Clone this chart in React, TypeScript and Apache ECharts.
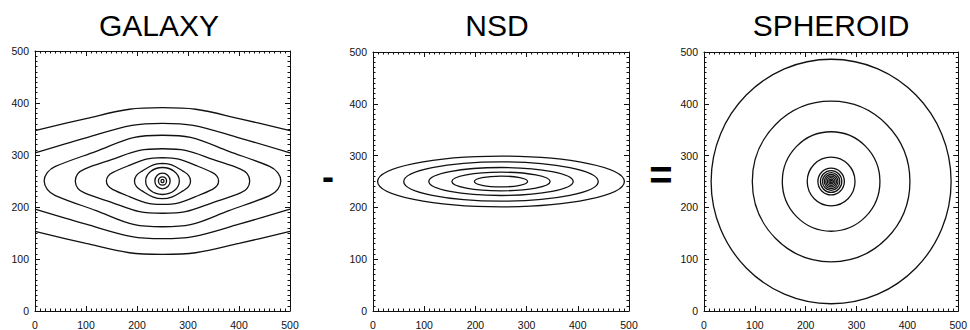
import React, { useEffect, useRef } from "react";
import * as echarts from "echarts";

// ---- Tick labels / titles ----
const panelTitles = ["GALAXY", "NSD", "SPHEROID"];
const axisMin = 0;
const axisMax = 500;
const axisStep = 100;

// ---- GALAXY: open contours (cross the whole field) ----
const galaxyOpenTop1 = [[0, 347], [100, 370], [185, 388], [250, 391], [315, 388], [400, 370], [500, 347]];
const galaxyOpenTop2 = [[0, 304], [100, 333], [190, 357], [250, 361], [310, 357], [400, 333], [500, 304]];
const galaxyOpenBot2 = [[0, 196], [100, 167], [190, 143], [250, 139], [310, 143], [400, 167], [500, 196]];
const galaxyOpenBot1 = [[0, 153], [100, 130], [185, 112], [250, 109], [315, 112], [400, 130], [500, 153]];

// ---- GALAXY: closed contours (traced round, starting at the top) ----
const galaxyClosed1 = [[250, 338], [305, 334], [380, 307], [460, 278], [476, 266], [482, 250], [476, 234], [460, 222], [380, 193], [305, 166], [250, 162], [195, 166], [120, 193], [40, 222], [24, 234], [18, 250], [24, 266], [40, 278], [120, 307], [195, 334], [250, 338]];
const galaxyClosed2 = [[250, 312], [295, 309], [350, 291], [403, 273], [416, 264], [421, 250], [416, 236], [403, 227], [350, 209], [295, 191], [250, 188], [205, 191], [150, 209], [97, 227], [84, 236], [79, 250], [84, 264], [97, 273], [150, 291], [205, 309], [250, 312]];
const galaxyClosed3 = [[250, 295], [282, 292], [315, 280], [348, 266], [357, 259], [360, 250], [357, 241], [348, 234], [315, 220], [282, 208], [250, 205], [218, 208], [185, 220], [152, 234], [143, 241], [140, 250], [143, 259], [152, 266], [185, 280], [218, 292], [250, 295]];
const galaxyClosed4 = [[250, 284], [268, 281], [290, 269], [301, 261], [305, 250], [301, 239], [290, 231], [268, 219], [250, 216], [232, 219], [210, 231], [199, 239], [195, 250], [199, 261], [210, 269], [232, 281], [250, 284]];
// inner rings: [cx, cy, rx, ry]
const galaxyRings = [[250, 250, 33, 26], [250, 250, 15, 15], [250, 250, 8, 8], [250, 250, 3, 3]];

// ---- NSD ellipses: [cx, cy, rx, ry] ----
const nsdEllipses = [[250, 250, 241, 49], [250, 250, 190, 38], [250, 250, 141, 27], [250, 250, 96, 18], [250, 250, 52, 10.5]];

// ---- SPHEROID circles: [cx, cy, rx, ry] ----
const spheroidCircles = [[250, 250, 236, 236], [250, 250, 155, 155], [250, 250, 96, 96], [250, 250, 47, 47], [250, 250, 26, 26], [250, 250, 21, 21], [250, 250, 17, 17], [250, 250, 13.5, 13.5], [250, 250, 10.5, 10.5], [250, 250, 7.5, 7.5], [250, 250, 4.5, 4.5], [250, 250, 2, 2]];

const FONT = "'Liberation Sans', Arial, Helvetica, sans-serif";
const INK = "#111";
const LW = 1.3;

const grids = [
  { left: 35, top: 51, width: 255, height: 262 },
  { left: 373, top: 52, width: 256, height: 261 },
  { left: 704, top: 52, width: 258, height: 261 },
];
const titleX = [159, 497, 831];

function makeAxis(gridIndex: number, position: string, showLabel: boolean) {
  return {
    gridIndex,
    type: "value",
    position,
    min: axisMin,
    max: axisMax,
    interval: axisStep,
    axisLine: { show: true, onZero: false, lineStyle: { color: INK, width: 1 } },
    axisTick: { show: true, inside: true, length: 5, lineStyle: { color: INK, width: 1 } },
    minorTick: { show: true, splitNumber: 10, length: 2.5, lineStyle: { color: INK, width: 1 } },
    splitLine: { show: false },
    axisLabel: {
      show: showLabel,
      fontSize: 10.5,
      fontFamily: FONT,
      color: "#111",
      margin: position === "bottom" ? 8 : 6,
    },
  };
}

function lineSeries(data: number[][], gridIndex: number) {
  return {
    type: "line",
    xAxisIndex: gridIndex * 2,
    yAxisIndex: gridIndex * 2,
    data,
    smooth: 0.35,
    showSymbol: false,
    symbol: "none",
    lineStyle: { color: INK, width: LW },
    silent: true,
  };
}

function ellipseSeries(data: number[][], gridIndex: number) {
  return {
    type: "custom",
    xAxisIndex: gridIndex * 2,
    yAxisIndex: gridIndex * 2,
    data,
    silent: true,
    renderItem: (params: any, api: any) => {
      const c = api.coord([api.value(0), api.value(1)]);
      const s = api.size([api.value(2), api.value(3)]);
      return {
        type: "ellipse",
        shape: { cx: c[0], cy: c[1], rx: s[0], ry: s[1] },
        style: { fill: "none", stroke: INK, lineWidth: LW },
      };
    },
  };
}

export default function App() {
  const ref = useRef<HTMLDivElement>(null);
  useEffect(() => {
    if (!ref.current) return;
    const chart = echarts.init(ref.current, undefined, { renderer: "svg" });
    const xAxis: any[] = [];
    const yAxis: any[] = [];
    grids.forEach((_, i) => {
      xAxis.push(makeAxis(i, "bottom", true));
      xAxis.push(makeAxis(i, "top", false));
      yAxis.push(makeAxis(i, "left", true));
      yAxis.push(makeAxis(i, "right", false));
    });
    const series: any[] = [
      lineSeries(galaxyOpenTop1, 0),
      lineSeries(galaxyOpenTop2, 0),
      lineSeries(galaxyOpenBot2, 0),
      lineSeries(galaxyOpenBot1, 0),
      lineSeries(galaxyClosed1, 0),
      lineSeries(galaxyClosed2, 0),
      lineSeries(galaxyClosed3, 0),
      lineSeries(galaxyClosed4, 0),
      ellipseSeries(galaxyRings, 0),
      ellipseSeries(nsdEllipses, 1),
      ellipseSeries(spheroidCircles, 2),
    ];
    const graphic: any[] = panelTitles.map((t, i) => ({
      type: "text",
      x: titleX[i],
      y: 25,
      style: { text: t, fontSize: 30, fontFamily: FONT, fill: "#000", align: "center", verticalAlign: "middle" },
    }));
    graphic.push({
      type: "text",
      x: 328,
      y: 176,
      style: { text: "-", fontSize: 36, fontWeight: "bold", fontFamily: FONT, fill: "#000", align: "center", verticalAlign: "middle" },
    });
    graphic.push({
      type: "text",
      x: 661,
      y: 175,
      style: { text: "=", fontSize: 40, fontWeight: "bold", fontFamily: FONT, fill: "#000", align: "center", verticalAlign: "middle" },
    });
    chart.setOption({
      animation: false,
      backgroundColor: "#fff",
      grid: grids,
      xAxis,
      yAxis,
      series,
      graphic,
    });
    return () => chart.dispose();
  }, []);
  return (
    <div
      ref={ref}
      style={{ position: "absolute", left: 0, top: 0, width: 970, height: 330, background: "#fff" }}
    />
  );
}
